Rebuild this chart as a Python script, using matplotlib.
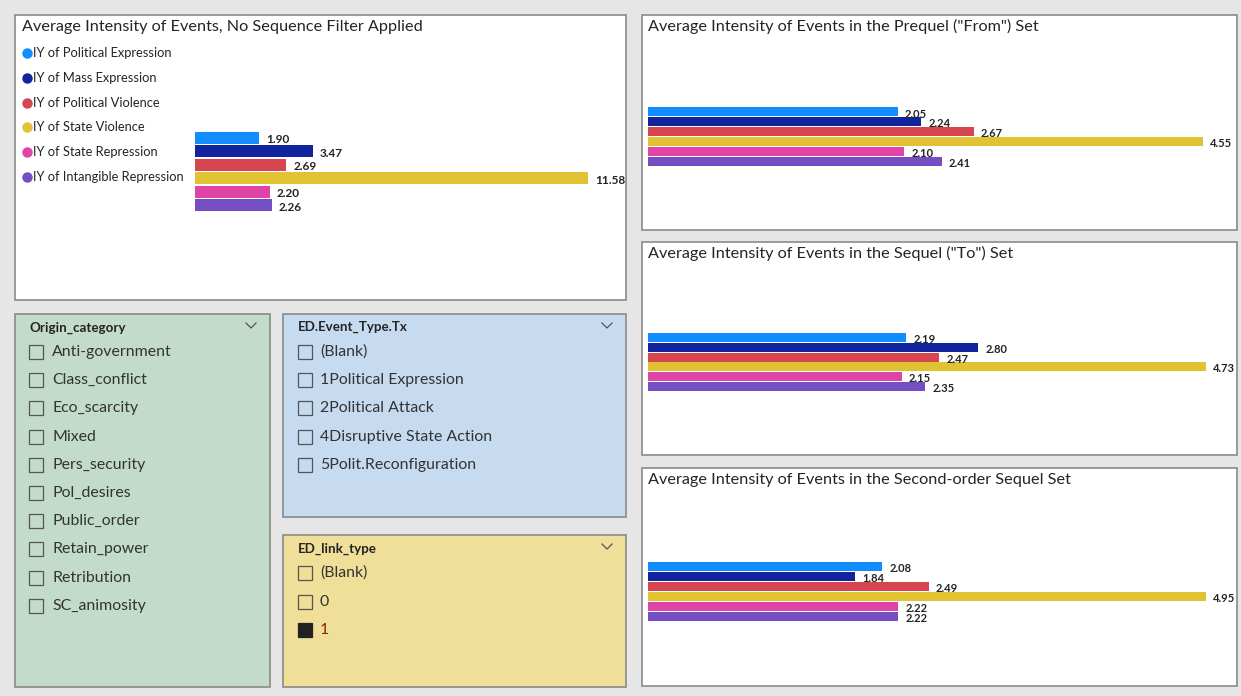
import matplotlib
matplotlib.use("Agg")
import matplotlib.pyplot as plt
from matplotlib.patches import Rectangle
import numpy as np

plt.rcParams['font.family'] = ['Lato', 'DejaVu Sans']

# ---------------- data ----------------
series = ["IY of Political Expression", "IY of Mass Expression", "IY of Political Violence",
          "IY of State Violence", "IY of State Repression", "IY of Intangible Repression"]
colors = ["#118DFF", "#12239E", "#D64550", "#E1C233", "#E044A7", "#744EC2"]

no_filter = [1.90, 3.47, 2.69, 11.58, 2.20, 2.26]
prequel = [2.05, 2.24, 2.67, 4.55, 2.10, 2.41]
sequel = [2.19, 2.80, 2.47, 4.73, 2.15, 2.35]
second_sequel = [2.08, 1.84, 2.49, 4.95, 2.22, 2.22]

titles = ["Average Intensity of Events, No Sequence Filter Applied",
          "Average Intensity of Events in the Prequel (\"From\") Set",
          "Average Intensity of Events in the Sequel (\"To\") Set",
          "Average Intensity of Events in the Second-order Sequel Set"]

origin_items = ["Anti-government", "Class_conflict", "Eco_scarcity", "Mixed", "Pers_security",
                "Pol_desires", "Public_order", "Retain_power", "Retribution", "SC_animosity"]
event_items = ["(Blank)", "1Political Expression", "2Political Attack",
               "4Disruptive State Action", "5Polit.Reconfiguration"]
link_items = ["(Blank)", "0", "1"]
link_selected = [False, False, True]

W, H = 1241, 696
fig = plt.figure(figsize=(W / 100, H / 100), dpi=100)
fig.patch.set_facecolor("#E6E6E6")

bg = fig.add_axes([0, 0, 1, 1])
bg.set_xlim(0, W)
bg.set_ylim(H, 0)
bg.axis("off")
bg.set_facecolor("none")


def panel(x0, y0, x1, y1, fc="white", ec="#8A8A8A"):
    bg.add_patch(Rectangle((x0, y0), x1 - x0, y1 - y0, facecolor=fc, edgecolor=ec, lw=1.2))


def chevron(x, y):
    bg.plot([x - 5, x, x + 5], [y - 3, y + 2, y - 3], color="#555555", lw=0.9)


def checkbox(x, y, filled=False):
    bg.add_patch(Rectangle((x, y - 7), 14, 14, facecolor="#222222" if filled else "none",
                           edgecolor="#555555" if not filled else "#222222", lw=0.9))


def px_axes(x0, y0, x1, y1):
    return fig.add_axes([x0 / W, 1 - y1 / H, (x1 - x0) / W, (y1 - y0) / H])


# ---------------- panels ----------------
panel(15, 15, 626, 300)
panel(642, 15, 1237, 230)
panel(642, 242, 1237, 455)
panel(642, 468, 1237, 686)
panel(15, 314, 270, 687, fc="#C2DBCB")
panel(283, 314, 626, 517, fc="#C6DBF0")
panel(283, 535, 626, 687, fc="#F0DF98")

title_kw = dict(fontsize=11.7, color="#252423", va="center", ha="left")
bg.text(22, 27, titles[0], **title_kw)
bg.text(648, 26, titles[1], **title_kw)
bg.text(648, 253, titles[2], **title_kw)
bg.text(648, 480, titles[3], **title_kw)

# legend of first chart
for i, (name, c) in enumerate(zip(series, colors)):
    y = 53 + i * 24.8
    bg.plot(27, y, "o", color=c, ms=6.5)
    bg.text(33, y, name, fontsize=9.3, color="#252423", va="center", ha="left")


# ---------------- bar charts ----------------
def bars(values, x0, x1, y0, y1, px_per_unit, label_fs=8):
    ax = px_axes(x0, y0, x1, y1)
    n = len(values)
    pos = np.arange(n)
    ax.barh(pos, values, height=0.92, color=colors, edgecolor="none")
    ax.set_xlim(0, (x1 - x0) / px_per_unit)
    ax.set_ylim(n - 0.5, -0.5)
    ax.axis("off")
    for p, v in zip(pos, values):
        ax.annotate(f"{v:.2f}", (v, p), xytext=(5, -1.5), textcoords="offset points",
                    fontsize=label_fs, fontweight="bold", color="#252423", va="center", ha="left")
    return ax


bars(no_filter, 195, 625, 131, 212, (588 - 195) / 11.58, label_fs=8.5)
bars(prequel, 648, 1236, 107, 166, (1203 - 648) / 4.55)
bars(sequel, 648, 1236, 333, 391, (1206 - 648) / 4.73)
bars(second_sequel, 648, 1236, 562, 621, (1206 - 648) / 4.95)

# ---------------- slicers ----------------
hdr_kw = dict(fontsize=9.6, color="#252423", va="center", ha="left", fontweight="bold")
item_kw = dict(fontsize=11.4, color="#333333", va="center", ha="left")

bg.text(29, 328, "Origin_category", **hdr_kw)
chevron(251, 326)
for i, t in enumerate(origin_items):
    y = 352 + i * 28.2
    checkbox(29, y)
    bg.text(52, y, t, **item_kw)

bg.text(298, 327, "ED.Event_Type.Tx", **hdr_kw)
chevron(607, 326)
for i, t in enumerate(event_items):
    y = 352 + i * 28.2
    checkbox(298, y)
    bg.text(320, y, t, **item_kw)

bg.text(298, 549, "ED_link_type", **hdr_kw)
chevron(607, 547)
for i, (t, sel) in enumerate(zip(link_items, link_selected)):
    y = 573 + i * 28.5
    checkbox(298, y, filled=sel)
    bg.text(320, y, t, **dict(item_kw, color="#8B2500" if sel else "#333333"))

fig.savefig("out.png", dpi=100, facecolor=fig.get_facecolor())
